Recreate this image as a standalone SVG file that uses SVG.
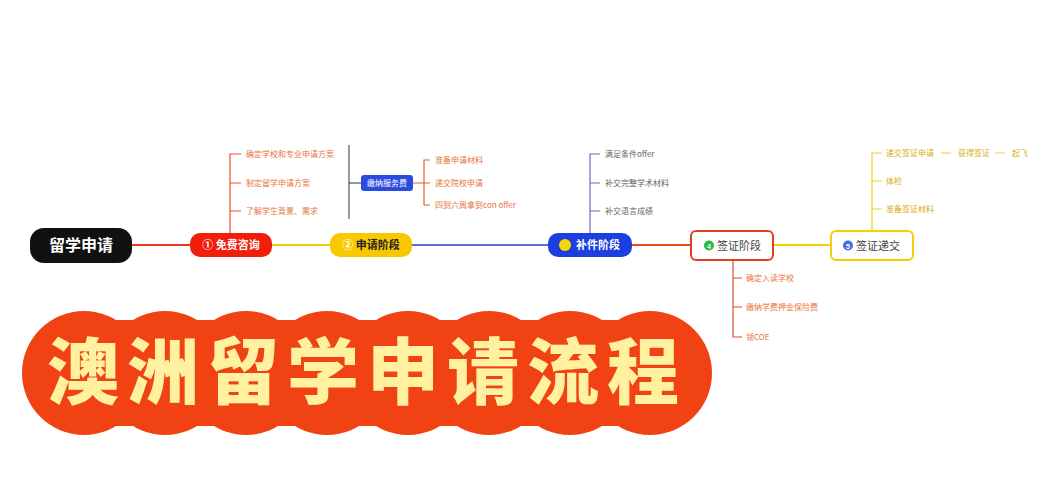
<svg xmlns="http://www.w3.org/2000/svg" width="1059" height="500" viewBox="0 0 1059 500">
<style>
.t{font-family:"Noto Sans CJK SC","Liberation Sans",sans-serif;font-size:8px}
.o{fill:#E8743B}
.g{fill:#666}
.y{fill:#D9AE10}
.nb{font-family:"Noto Sans CJK SC","Liberation Sans",sans-serif;font-size:11px;font-weight:bold;text-anchor:middle}
.nn{font-family:"Noto Sans CJK SC","Liberation Sans",sans-serif;font-size:11px;text-anchor:middle;fill:#444}
</style>
<rect width="1059" height="500" fill="#fff"/>
<g id="connectors" fill="none">
<line x1="132" y1="245" x2="190" y2="245" stroke="#E8381A" stroke-width="2"/>
<line x1="272" y1="245" x2="330" y2="245" stroke="#F5C800" stroke-width="2"/>
<line x1="412" y1="245" x2="548" y2="245" stroke="#2A3FC0" stroke-width="1.5"/>
<line x1="632" y1="245" x2="691" y2="245" stroke="#E84A1A" stroke-width="2"/>
<line x1="773" y1="245" x2="831" y2="245" stroke="#F5D000" stroke-width="2"/>
<path d="M230 233V154H241M230 183H241M230 211H241" stroke="#E8502A" stroke-width="1.2"/>
<path d="M349 145V219M349 183H361" stroke="#333" stroke-width="1"/>
<path d="M413 183H430M424 205V160H430M424 205H430" stroke="#E8602A" stroke-width="1.2"/>
<path d="M590 233V154H600M590 183H600M590 211H600" stroke="#6A6AC0" stroke-width="1.2"/>
<path d="M733 260V337H742M733 278H742M733 307H742" stroke="#D9502A" stroke-width="1.2"/>
<path d="M872 231V153H882M872 181H882M872 209H882" stroke="#F2D020" stroke-width="1.2"/>
<path d="M941 153H951M995 153H1005" stroke="#F2D020" stroke-width="1"/>
</g>
<g id="root">
<rect x="30" y="228" width="102" height="35" rx="14" fill="#111"/>
<text x="81" y="251" text-anchor="middle" font-family="Noto Sans CJK SC,sans-serif" font-size="16" font-weight="bold" fill="#fff">留学申请</text>
</g>
<g id="n1">
<rect x="190" y="233" width="82" height="24" rx="10" fill="#F01E0A"/>
<text x="231" y="249" class="nb" fill="#fff">① 免费咨询</text>
</g>
<g id="n1c" class="t o">
<text x="246" y="157">确定学校和专业申请方案</text>
<text x="246" y="186">制定留学申请方案</text>
<text x="246" y="214">了解学生背景、需求</text>
</g>
<g id="fee">
<rect x="361" y="175" width="52" height="16" rx="3" fill="#2A4AE0"/>
<text x="387" y="186" text-anchor="middle" font-family="Noto Sans CJK SC,sans-serif" font-size="8" fill="#fff">缴纳服务费</text>
</g>
<g id="n2">
<rect x="330" y="233" width="82" height="24" rx="10" fill="#F8C800"/>
<text x="371" y="249" class="nb" fill="#222"><tspan fill="#fff">②</tspan> 申请阶段</text>
</g>
<g id="n2c" class="t o">
<text x="435" y="163">准备申请材料</text>
<text x="435" y="186">递交院校申请</text>
<text x="435" y="208">四到六周拿到con offer</text>
</g>
<g id="n3">
<rect x="548" y="233" width="84" height="24" rx="10" fill="#1E3FE0"/>
<circle cx="565" cy="245" r="6" fill="#F5D800"/>
<text x="598" y="249" class="nb" fill="#fff">补件阶段</text>
</g>
<g id="n3c" class="t g">
<text x="605" y="157">满足条件offer</text>
<text x="605" y="186">补交完整学术材料</text>
<text x="605" y="214">补交语言成绩</text>
</g>
<g id="n4">
<rect x="691" y="231" width="82" height="29" rx="5" fill="#fff" stroke="#E04020" stroke-width="2"/>
<circle cx="709" cy="245.5" r="5" fill="#2CB84A"/>
<text x="709" y="248.5" text-anchor="middle" font-family="Liberation Sans,sans-serif" font-size="7" font-weight="bold" fill="#fff">4</text>
<text x="739" y="249.5" class="nn">签证阶段</text>
</g>
<g id="n4c" class="t o">
<text x="746" y="281">确定入读学校</text>
<text x="746" y="310">缴纳学费押金保险费</text>
<text x="746" y="340">领COE</text>
</g>
<g id="n5">
<rect x="831" y="231" width="82" height="29" rx="5" fill="#fff" stroke="#F5D000" stroke-width="2"/>
<circle cx="848" cy="245.5" r="5" fill="#4A6AE0"/>
<text x="848" y="248.5" text-anchor="middle" font-family="Liberation Sans,sans-serif" font-size="7" font-weight="bold" fill="#fff">5</text>
<text x="878" y="249.5" class="nn">签证递交</text>
</g>
<g id="n5c" class="t y">
<text x="886" y="156">递交签证申请</text>
<text x="958" y="156">获得签证</text>
<text x="1012" y="156">起飞</text>
<text x="886" y="184">体检</text>
<text x="886" y="212">准备签证材料</text>
</g>
<g id="banner">
<g fill="#F04212">
<rect x="84" y="320" width="566" height="106"/>
<circle cx="84" cy="373" r="62"/>
<circle cx="165" cy="373" r="62"/>
<circle cx="246" cy="373" r="62"/>
<circle cx="327" cy="373" r="62"/>
<circle cx="408" cy="373" r="62"/>
<circle cx="489" cy="373" r="62"/>
<circle cx="570" cy="373" r="62"/>
<circle cx="650" cy="373" r="62"/>
</g>
<text x="367" y="398" text-anchor="middle" font-family="Noto Sans CJK SC,sans-serif" font-size="72" font-weight="900" letter-spacing="8" fill="#FFF1A0">澳洲留学申请流程</text>
</g>
</svg>
